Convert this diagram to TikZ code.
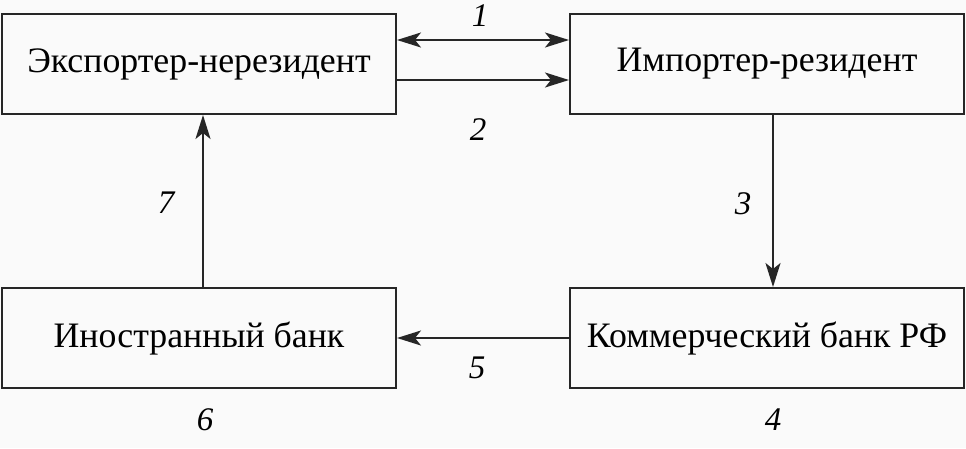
\documentclass[tikz,border=0pt]{standalone}
\usepackage{fontspec}
\setmainfont{Liberation Serif}
\usetikzlibrary{arrows.meta}
\begin{document}
\begin{tikzpicture}[x=1pt,y=-1pt,
  box/.style={draw=black!85,line width=2pt,rectangle,minimum width=394pt,minimum height=100pt,inner sep=0pt,font=\fontsize{35.8}{38}\selectfont},
  num/.style={font=\fontsize{33}{35}\selectfont\itshape,inner sep=0pt},
  tip/.tip={Stealth[length=24pt,width=15pt,inset=6pt]},
  conn/.style={line width=2pt,draw=black!85,-tip}]
\fill[black!2] (0,0) rectangle (966,448);
\useasboundingbox (0,0) rectangle (966,448);
\node[box] (tl) at (199,64) {Экспортер-нерезидент};
\node[box] (tr) at (767,64) {Импортер-резидент};
\node[box] (bl) at (199,338) {Иностранный банк};
\node[box] (br) at (767,338) {Коммерческий банк РФ};
\draw[conn,tip-tip] ([yshift=24pt]tl.east) -- ([yshift=24pt]tr.west);
\draw[conn] ([yshift=-16pt]tl.east) -- ([yshift=-16pt]tr.west);
\draw[conn] ([xshift=6pt]tr.south) -- ([xshift=6pt]br.north);
\draw[conn] (br.west) -- (bl.east);
\draw[conn] ([xshift=4pt]bl.north) -- ([xshift=4pt]tl.south);
\node[num] (n1) at (480,16) {1};
\node[num] (n2) at (478,130) {2};
\node[num] (n3) at (743,204) {3};
\node[num] (n4) at (773,420) {4};
\node[num] (n5) at (477,368) {5};
\node[num] (n6) at (205,420) {6};
\node[num] (n7) at (166,203) {7};
\end{tikzpicture}
\end{document}
